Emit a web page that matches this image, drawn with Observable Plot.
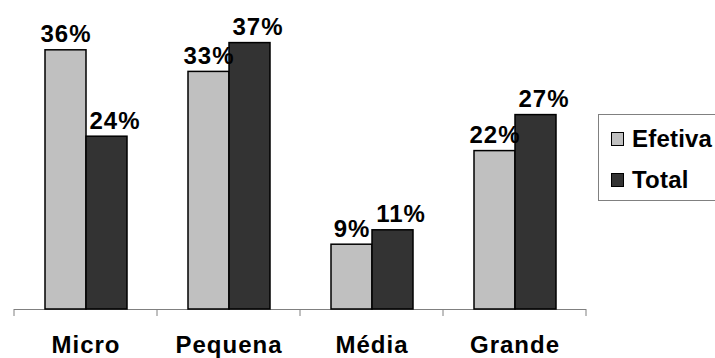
<!DOCTYPE html>
<html>
<head>
<meta charset="utf-8">
<script src="https://cdn.jsdelivr.net/npm/d3@7"></script>
<script src="https://cdn.jsdelivr.net/npm/@observablehq/plot@0.6"></script>
<style>
  html, body { margin: 0; padding: 0; background: #fff; overflow: hidden; }
  #wrap { position: relative; width: 715px; height: 358px; overflow: hidden; font-family: "Liberation Sans", Arial, sans-serif; }
  #wrap svg text { letter-spacing: 1px; }
  #legend { position: absolute; left: 598px; top: 114px; width: 140px; height: 87px; border: 1px solid #808080; background: #fff; box-sizing: border-box; }
  .item { position: absolute; left: 12px; display: flex; align-items: center; font-weight: bold; font-size: 24px; line-height: 1; letter-spacing: 0.2px; }
  .sw { width: 11px; height: 12px; border: 1px solid #000; margin-right: 8px; }
</style>
</head>
<body>
<div id="wrap"></div>
<script>
const categories = ["Micro", "Pequena", "Média", "Grande"];
const series = ["Efetiva", "Total"];
const efetiva = [36, 33, 9, 22];
const total = [24, 37, 11, 27];
const colors = ["#c0c0c0", "#333333"];

const data = categories.flatMap((c, i) => [
  {cat: c, serie: series[0], value: efetiva[i]},
  {cat: c, serie: series[1], value: total[i]}
]);

const font = {fontSize: 24, fontWeight: "bold"};

const chart = Plot.plot({
  width: 715,
  height: 358,
  marginLeft: 13,
  marginRight: 128,
  marginTop: 21,
  marginBottom: 49,
  style: {fontFamily: "'Liberation Sans', Arial, sans-serif", background: "#fff"},
  fx: {domain: categories, padding: 0, axis: null},
  x: {domain: series, paddingInner: 0, paddingOuter: 0.708, axis: null},
  y: {domain: [0, 40], axis: null},
  color: {domain: series, range: colors},
  marks: [
    Plot.ruleY([0], {stroke: "#808080", strokeWidth: 1}),
    Plot.barY(data, {fx: "cat", x: "serie", y: "value", fill: "serie", stroke: "#000", strokeWidth: 1.5}),
    Plot.text(data, {filter: d => d.serie === series[0], fx: "cat", x: "serie", y: "value",
      text: d => d.value + "%", lineAnchor: "bottom", dy: -8, fill: "#000", ...font}),
    Plot.text(data, {filter: d => d.serie === series[1], fx: "cat", x: "serie", y: "value",
      text: d => d.value + "%", lineAnchor: "bottom", dy: -8, dx: 8, fill: "#000", ...font}),
    Plot.text(categories, {fx: d => d, text: d => d, frameAnchor: "bottom", lineAnchor: "top", dy: 26, fill: "#000", ...font})
  ]
});

document.getElementById("wrap").appendChild(chart);

// boundary ticks on the category axis, from the plot's own fx and y scales
const fx = chart.scale("fx");
const y0 = chart.scale("y").apply(0);
const bounds = categories.map(c => fx.apply(c)).concat([fx.apply(categories[categories.length - 1]) + fx.bandwidth]);
const svg = d3.select(chart.tagName.toLowerCase() === "svg" ? chart : chart.querySelector("svg"));
svg.append("g").selectAll("line").data(bounds).join("line")
  .attr("x1", d => d).attr("x2", d => d)
  .attr("y1", y0).attr("y2", y0 + 7)
  .attr("stroke", "#808080").attr("stroke-width", 1);

// legend
const legend = document.createElement("div");
legend.id = "legend";
series.forEach((s, i) => {
  const item = document.createElement("div");
  item.className = "item";
  item.style.top = (i === 0 ? 12 : 53) + "px";
  const sw = document.createElement("div");
  sw.className = "sw";
  sw.style.background = colors[i];
  const label = document.createElement("span");
  label.textContent = s;
  item.appendChild(sw);
  item.appendChild(label);
  legend.appendChild(item);
});
document.getElementById("wrap").appendChild(legend);
</script>
</body>
</html>
